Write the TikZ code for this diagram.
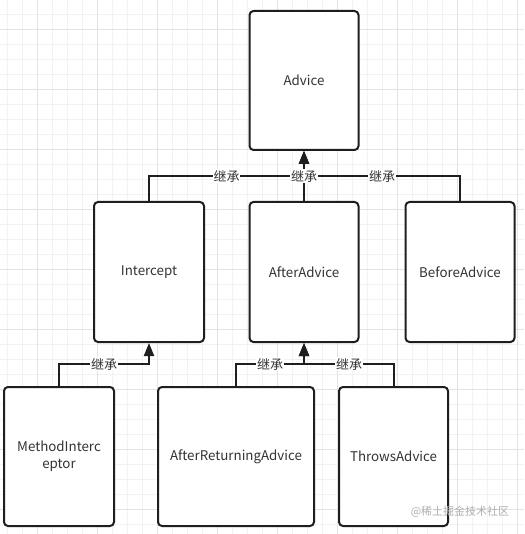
\documentclass[tikz,border=0pt]{standalone}
\usepackage{fontspec}
\setmainfont{Noto Sans CJK SC}
\usetikzlibrary{arrows.meta}
\definecolor{boxline}{HTML}{1E1E1E}
\definecolor{txt}{HTML}{333333}
\definecolor{gridminor}{HTML}{F2F2F2}
\definecolor{gridmajor}{HTML}{E3E3E3}
\definecolor{wm}{HTML}{AFAFAF}
\tikzset{
  classbox/.style={draw=boxline, line width=1.5pt, rounded corners=3pt, fill=white,
    minimum height=139*0.75pt, inner sep=0pt, text=txt, font=\fontsize{10}{13}\selectfont, align=center},
  inherit/.style={draw=boxline, line width=1.5pt, -{Triangle[length=9.75pt,width=7.5pt]}},
  lbl/.style={fill=white, inner sep=0.5pt, text=txt, font=\fontsize{9.75}{12}\selectfont}
}
\begin{document}
\begin{tikzpicture}[x=0.75pt,y=-0.75pt]
\useasboundingbox (0,0) rectangle (524,534);
\fill[white] (0,0) rectangle (524,534);
% grid
\foreach \i in {0,...,34} {
  \draw[gridminor, line width=0.75pt] ({7.5+15*\i},0) -- ({7.5+15*\i},534);
  \draw[gridminor, line width=0.75pt] (0,{14.5+15*\i}) -- (524,{14.5+15*\i});
}
\foreach \i in {0,...,8} {
  \draw[gridmajor, line width=0.75pt] ({37.5+60*\i},0) -- ({37.5+60*\i},534);
  \draw[gridmajor, line width=0.75pt] (0,{29.5+60*\i}) -- (524,{29.5+60*\i});
}
% boxes
\node[classbox, minimum width=109*0.75pt] (advice) at (304,80.5) {Advice};
\node[classbox, minimum width=110*0.75pt, minimum height=140*0.75pt] (intercept) at (149,272) {Intercept};
\node[classbox, minimum width=109*0.75pt, minimum height=140*0.75pt] (afteradvice) at (304,272) {AfterAdvice};
\node[classbox, minimum width=109*0.75pt, minimum height=140*0.75pt] (beforeadvice) at (460,272) {BeforeAdvice};
\node[classbox, minimum width=110*0.75pt] (methodint) at (59,456.5) {MethodInterc\\eptor};
\node[classbox, minimum width=156*0.75pt] (afterret) at (236,456.5) {AfterReturningAdvice};
\node[classbox, minimum width=109*0.75pt] (throws) at (393.5,456.5) {ThrowsAdvice};
% junctions
\coordinate (jtop) at (304,176);
\coordinate (jleft) at (149,364);
\coordinate (jright) at (304,364);
% edges top
\draw[inherit] (intercept.north) |- (jtop) -- (advice.south);
\draw[inherit] (beforeadvice.north) |- (jtop) -- (advice.south);
\draw[inherit] (afteradvice.north) -- (advice.south);
\node[lbl] (l1) at (226.5,176) {继承};
\node[lbl] (l2) at (304,176) {继承};
\node[lbl] (l3) at (382,176) {继承};
% edges bottom
\draw[inherit] (methodint.north) |- (jleft) -- (intercept.south);
\draw[inherit] (afterret.north) |- (jright) -- (afteradvice.south);
\draw[inherit] (throws.north) |- (jright) -- (afteradvice.south);
\node[lbl] (l4) at (104,364) {继承};
\node[lbl] (l5) at (270,364) {继承};
\node[lbl] (l6) at (349,364) {继承};
% watermark
\node[text=wm, font=\fontsize{8.25}{10}\selectfont, inner sep=0pt] (wmark) at (460,511.5) {@稀土掘金技术社区};
\end{tikzpicture}
\end{document}
